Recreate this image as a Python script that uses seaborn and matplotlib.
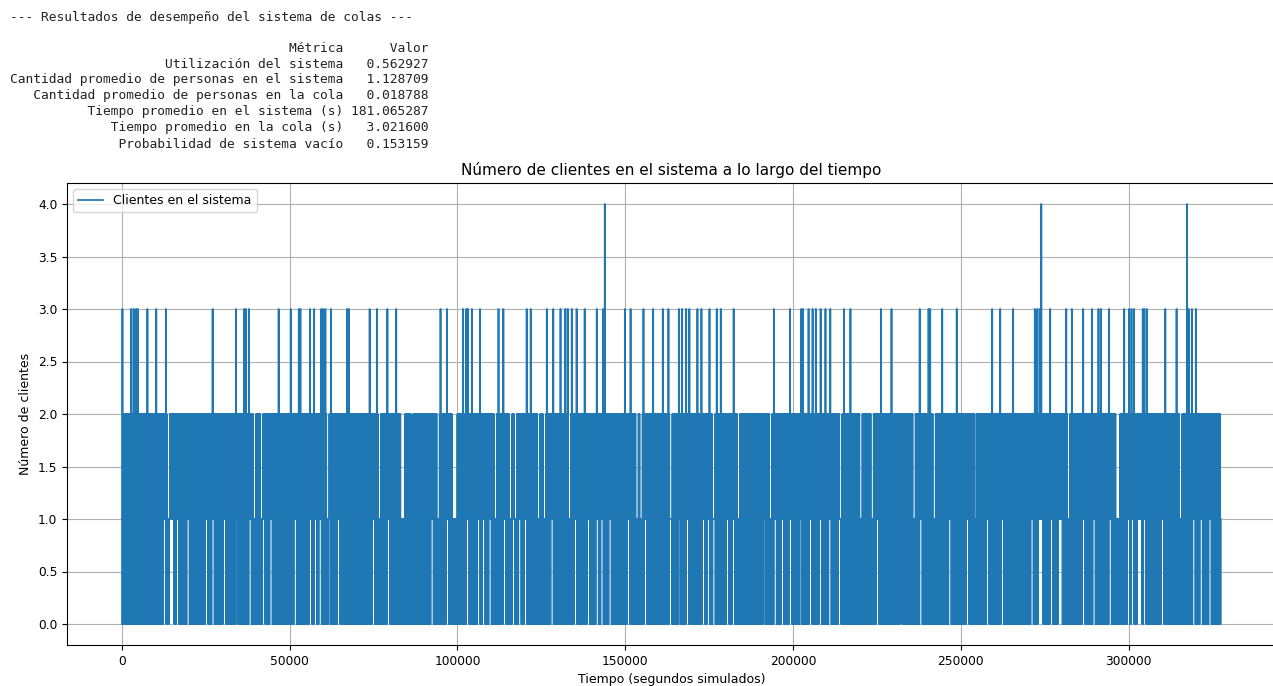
import numpy as np
import pandas as pd
import matplotlib
matplotlib.use("Agg")
import matplotlib.pyplot as plt
import seaborn as sns

# resultados impresos arriba del grafico
metricas = ["Utilización del sistema",
            "Cantidad promedio de personas en el sistema",
            "Cantidad promedio de personas en la cola",
            "Tiempo promedio en el sistema (s)",
            "Tiempo promedio en la cola (s)",
            "Probabilidad de sistema vacío"]
valores = [0.562927, 1.128709, 0.018788, 181.065287, 3.021600, 0.153159]

# traza (segundos simulados)
t_fin = 327400
paso = 60               # separacion entre eventos
ciclo = [0, 1, 2, 1]    # vaiven normal entre 0 y 2 clientes
ancho_hueco = 340

# instantes con 4 clientes
t_pico4 = [144000, 274000, 317300]
# instantes con 3 clientes
t_pico3 = [200, 2700, 3400, 4100, 4600, 7500, 10100, 13000, 26900, 34000,
           36400, 36900, 37800, 46800, 50400, 52800, 53100, 56100, 57300, 59300,
           59900, 60700, 62300, 67100, 67600, 73700, 76000, 79100, 81700, 95000,
           96800, 101600, 102500, 103100, 104300, 106700, 112200, 113700, 120500,
           121900, 126600, 128600, 130600, 132100, 132800, 134100, 135600, 138000,
           141600, 143500, 150000, 151500, 155500, 158400, 161200, 162900, 165900,
           166900, 168200, 169200, 171400, 172600, 175100, 177300, 178500, 182300,
           194200, 199200, 202400, 203000, 204700, 205700, 206700, 208100, 209600,
           211100, 215100, 217100, 226200, 229300, 237700, 240400, 240900, 244400,
           248700, 259300, 261800, 265500, 272000, 272800, 273500, 276700, 281500,
           283200, 286500, 289200, 291100, 291800, 294100, 298600, 300100, 300800,
           301500, 304100, 304800, 305400, 311000, 314300, 317900, 318800, 320000]
# tramos donde no se llega a 2 clientes
t_hueco_alto = [13800, 39400, 41700, 61300, 76700, 83400, 84000, 86400, 94300,
                98800, 99400, 111200, 115700, 117200, 124100, 125900, 133300,
                153500, 154700, 163500, 176300, 183800, 193300, 214300, 220100,
                223600, 236000, 242100, 254400, 282200, 296600, 297100, 315500]
# tramos donde el sistema no se vacia
t_hueco_bajo = [12800, 14300, 15100, 16500, 19600, 25300, 27200, 30400, 34200,
                38200, 42300, 44300, 51600, 56100, 57600, 59000, 61800, 64500,
                74800, 79400, 92400, 97000, 103000, 106300, 107700, 109700, 113900,
                116700, 118500, 120200, 128100, 135100, 139000, 141700, 143000,
                145500, 151000, 156000, 163400, 166200, 168400, 173300, 174800,
                176300, 180500, 182100, 191400, 194700, 196700, 199200, 202200,
                205200, 208100, 210900, 213900, 225200, 232200, 238000, 246700,
                251900, 258100, 262400, 271300, 273300, 274000, 277000, 279300,
                279800, 286600, 289700, 294500, 300100, 301100, 302800, 303600,
                304800, 310000, 319500, 321500, 324300]

tiempo = np.arange(0, t_fin + paso, paso)
clientes = np.resize(ciclo, len(tiempo)).astype(float)
for t in t_hueco_bajo:
    m = np.abs(tiempo - t) <= ancho_hueco
    clientes[m] = np.maximum(clientes[m], 1)
for t in t_hueco_alto:
    m = np.abs(tiempo - t) <= ancho_hueco
    clientes[m] = np.minimum(clientes[m], 1)

# los picos caen donde el ciclo ya esta en 2, asi no se abren huecos abajo
en_dos = np.where(np.resize(ciclo, len(tiempo)) == 2)[0]
for t in t_pico3:
    clientes[en_dos[np.argmin(np.abs(tiempo[en_dos] - t))]] = 3
for t in t_pico4:
    clientes[en_dos[np.argmin(np.abs(tiempo[en_dos] - t))]] = 4

df = pd.DataFrame({"Tiempo": tiempo, "Clientes": clientes})

W, H = 1273, 686
fig = plt.figure(figsize=(W / 100, H / 100), dpi=100)

# texto de resultados tipo consola
mono = "DejaVu Sans Mono"
fig.text(10 / W, 1 - 18 / H, "--- Resultados de desempeño del sistema de colas ---",
         family=mono, fontsize=9.25, ha="left", va="center", color="#222222")
tabla = pd.DataFrame({"Métrica": metricas, "Valor": valores}).to_string(index=False)
for i, linea in enumerate(tabla.splitlines()):
    fig.text(428 / W, 1 - (48 + 16 * i) / H, linea.rstrip(),
             family=mono, fontsize=9.25, ha="right", va="center", color="#222222")

ax = fig.add_axes([67 / W, 41 / H, 1208.5 / W, 462 / H])
sns.lineplot(data=df, x="Tiempo", y="Clientes", ax=ax, estimator=None,
             drawstyle="steps-post", color="#1f77b4", linewidth=1.25,
             label="Clientes en el sistema")
ax.grid(True)
ax.set_title("Número de clientes en el sistema a lo largo del tiempo", fontsize=11)
ax.set_xlabel("Tiempo (segundos simulados)", fontsize=9)
ax.set_ylabel("Número de clientes", fontsize=9)
ax.tick_params(labelsize=8.8)
ax.legend(loc="upper left", fontsize=9)

fig.savefig("out.png", dpi=100)
